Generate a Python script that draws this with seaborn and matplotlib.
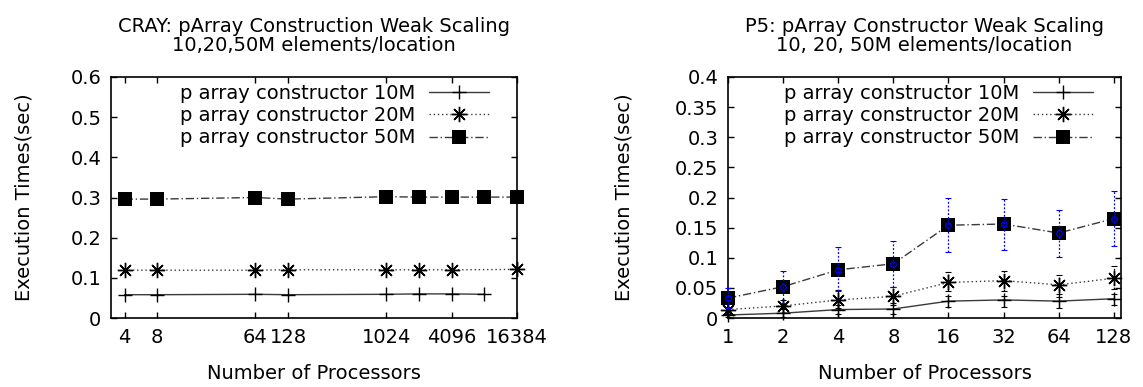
import matplotlib
matplotlib.use("Agg")
import pandas as pd
import matplotlib.pyplot as plt
import seaborn as sns
from matplotlib.ticker import FixedLocator, FuncFormatter, NullLocator

# ---------------- CRAY panel data ----------------
cray_procs_10m = [4, 8, 64, 128, 1024, 2048, 4096, 8192]
cray_time_10m = [0.058, 0.058, 0.059, 0.058, 0.059, 0.060, 0.060, 0.059]
cray_procs_20m = [4, 8, 64, 128, 1024, 2048, 4096, 16384]
cray_time_20m = [0.119, 0.119, 0.119, 0.120, 0.120, 0.120, 0.120, 0.121]
cray_procs_50m = [4, 8, 64, 128, 1024, 2048, 4096, 8192, 16384]
cray_time_50m = [0.296, 0.296, 0.300, 0.296, 0.302, 0.301, 0.301, 0.301, 0.301]
cray_xticks = [4, 8, 64, 128, 1024, 4096, 16384]
cray_yticks = [0, 0.1, 0.2, 0.3, 0.4, 0.5, 0.6]

# ---------------- P5 panel data ----------------
p5_procs = [1, 2, 4, 8, 16, 32, 64, 128]
p5_time_10m = [0.005, 0.008, 0.014, 0.015, 0.028, 0.030, 0.028, 0.032]
p5_lo_10m = [0.001, 0.002, 0.006, 0.006, 0.018, 0.019, 0.017, 0.022]
p5_hi_10m = [0.011, 0.015, 0.022, 0.025, 0.037, 0.037, 0.035, 0.040]
p5_time_20m = [0.014, 0.020, 0.030, 0.036, 0.059, 0.062, 0.055, 0.066]
p5_lo_20m = [0.006, 0.008, 0.017, 0.022, 0.044, 0.044, 0.040, 0.048]
p5_hi_20m = [0.019, 0.030, 0.046, 0.052, 0.076, 0.078, 0.071, 0.087]
p5_time_50m = [0.033, 0.052, 0.080, 0.090, 0.154, 0.156, 0.141, 0.165]
p5_lo_50m = [0.017, 0.025, 0.044, 0.052, 0.109, 0.113, 0.101, 0.120]
p5_hi_50m = [0.050, 0.078, 0.118, 0.128, 0.199, 0.198, 0.180, 0.210]
p5_yticks = [0, 0.05, 0.1, 0.15, 0.2, 0.25, 0.3, 0.35, 0.4]

labels = ["p array constructor 10M", "p array constructor 20M", "p array constructor 50M"]

sns.set_style("ticks")
plt.rcParams["font.family"] = ["DejaVu Sans"]
plt.rcParams["text.color"] = "black"
plt.rcParams["axes.labelcolor"] = "black"
FS = 14

LINE_C = "#3a3a3a"
styles = [
    dict(marker="+", markersize=10, markeredgewidth=1.0, linestyle="-"),
    dict(marker=(8, 2, 0), markersize=11, markeredgewidth=1.0, linestyle=(0, (1, 2))),
    dict(marker="s", markersize=10, markeredgewidth=0, linestyle=(0, (6, 2, 1, 2))),
]

W, H = 1143, 387
fig = plt.figure(figsize=(W / 100, H / 100), dpi=100)
ax1 = fig.add_axes([111 / W, (H - 318) / H, 406 / W, 241 / H])
ax2 = fig.add_axes([728 / W, (H - 318) / H, 393 / W, 241 / H])

fmt = FuncFormatter(lambda v, p: "%g" % v)


def draw_series(ax, x, y, label, st):
    sns.lineplot(x=x, y=y, ax=ax, label=label, color=LINE_C, linewidth=1.0,
                 markerfacecolor="black", markeredgecolor="black",
                 clip_on=False, zorder=3, **st)


def style_axes(ax, ylabel_x, legend_x):
    ax.set_xscale("log", base=2)
    ax.xaxis.set_minor_locator(NullLocator())
    ax.tick_params(which="both", direction="in", length=4, width=1,
                   top=True, right=True, labelsize=FS, pad=7, colors="black")
    for s in ax.spines.values():
        s.set_linewidth(1.2)
        s.set_color("black")
    ax.set_xlabel("Number of Processors", fontsize=FS, color="black")
    ax.set_ylabel("Execution Times(sec)", fontsize=FS, color="black")
    ax.xaxis.set_label_coords(0.5, -0.19)
    ax.yaxis.set_label_coords(ylabel_x, 0.5)
    ax.legend(loc="upper right", bbox_to_anchor=(legend_x, 0.972),
              frameon=False, markerfirst=False, fontsize=FS, labelcolor="black",
              handlelength=3.1, handletextpad=0.7, borderpad=0.0,
              borderaxespad=0.0, labelspacing=0.17)


# ---------- left panel ----------
draw_series(ax1, cray_procs_10m, cray_time_10m, labels[0], styles[0])
draw_series(ax1, cray_procs_20m, cray_time_20m, labels[1], styles[1])
draw_series(ax1, cray_procs_50m, cray_time_50m, labels[2], styles[2])
style_axes(ax1, -0.19, 0.931)
ax1.set_xlim(3, 16384)
ax1.set_ylim(0, 0.6)
ax1.xaxis.set_major_locator(FixedLocator(cray_xticks))
ax1.xaxis.set_major_formatter(FuncFormatter(lambda v, p: "%d" % v))
ax1.yaxis.set_major_locator(FixedLocator(cray_yticks))
ax1.yaxis.set_major_formatter(fmt)
ax1.set_title("CRAY: pArray Construction Weak Scaling\n10,20,50M elements/location",
              fontsize=FS, pad=19, linespacing=0.95, color="black")

# ---------- right panel ----------
err_sets = [
    (p5_time_10m, p5_lo_10m, p5_hi_10m, "black"),
    (p5_time_20m, p5_lo_20m, p5_hi_20m, "black"),
    (p5_time_50m, p5_lo_50m, p5_hi_50m, "blue"),
]
for (y, lo, hi, c) in err_sets:
    yerr = [[v - l for v, l in zip(y, lo)], [h - v for v, h in zip(y, hi)]]
    eb = ax2.errorbar(p5_procs, y, yerr=yerr, fmt="none", ecolor=c,
                      elinewidth=0.9, capsize=2.5, capthick=0.8, zorder=4, clip_on=False)
    for lc in eb[2]:
        lc.set_linestyle((0, (1.5, 1.5)))
draw_series(ax2, p5_procs, p5_time_10m, labels[0], styles[0])
draw_series(ax2, p5_procs, p5_time_20m, labels[1], styles[1])
draw_series(ax2, p5_procs, p5_time_50m, labels[2], styles[2])
ax2.plot(p5_procs, p5_time_50m, linestyle="none", marker="o", markersize=4,
         markerfacecolor="none", markeredgecolor="blue", markeredgewidth=0.9,
         zorder=5, clip_on=False)
style_axes(ax2, -0.24, 0.929)
ax2.set_xlim(1, 140)
ax2.set_ylim(0, 0.4)
ax2.xaxis.set_major_locator(FixedLocator(p5_procs))
ax2.xaxis.set_major_formatter(FuncFormatter(lambda v, p: "%d" % v))
ax2.yaxis.set_major_locator(FixedLocator(p5_yticks))
ax2.yaxis.set_major_formatter(fmt)
ax2.set_title("P5: pArray Constructor Weak Scaling\n10, 20, 50M elements/location",
              fontsize=FS, pad=19, linespacing=0.95, color="black")

fig.savefig("out.png", dpi=100)
